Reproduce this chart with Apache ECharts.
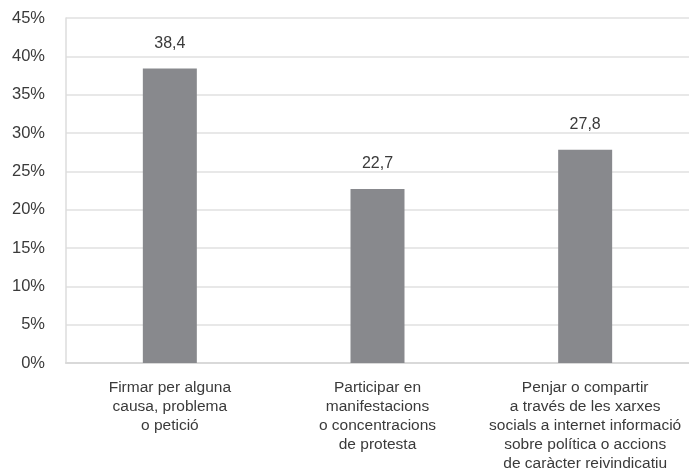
<!DOCTYPE html>
<html>
<head>
<meta charset="utf-8">
<script src="https://cdn.jsdelivr.net/npm/echarts@6/dist/echarts.min.js"></script>
<style>html,body{margin:0;padding:0;background:#fff}#c{width:689px;height:469px}</style>
</head>
<body>
<div id="c"></div>
<script>
const categories = [
  "Firmar per alguna\ncausa, problema\no petició",
  "Participar en\nmanifestacions\no concentracions\nde protesta",
  "Penjar o compartir\na través de les xarxes\nsocials a internet informació\nsobre política o accions\nde caràcter reivindicatiu"
];
const values = [38.4, 22.7, 27.8];
const yTicks = [0, 5, 10, 15, 20, 25, 30, 35, 40, 45];

const chart = echarts.init(document.getElementById('c'), null, {renderer: 'canvas'});
chart.setOption({
  animation: false,
  grid: {left: 66, right: 0, top: 18, bottom: 106, containLabel: false, outerBoundsMode: 'none'},
  xAxis: {
    type: 'category',
    data: categories,
    axisLine: {show: true, lineStyle: {color: '#d9d9d9', width: 2}},
    axisTick: {show: false},
    axisLabel: {
      interval: 0, margin: 15, color: '#3a3a3a',
      fontFamily: 'Liberation Sans', fontSize: 15.5, lineHeight: 19
    }
  },
  yAxis: {
    type: 'value', min: yTicks[0], max: yTicks[yTicks.length - 1], interval: 5,
    axisLine: {show: true, lineStyle: {color: '#dcdcdc', width: 1.5}},
    axisTick: {show: false},
    splitLine: {lineStyle: {color: '#e0e0e0', width: 1.5}},
    axisLabel: {
      margin: 21, color: '#3a3a3a', fontFamily: 'Liberation Sans', fontSize: 16.5,
      formatter: v => v + '%'
    }
  },
  series: [{
    type: 'bar',
    data: values,
    barWidth: '26%',
    itemStyle: {color: '#88898d'},
    label: {
      show: true, position: 'top', distance: 17, color: '#3a3a3a',
      fontFamily: 'Liberation Sans', fontSize: 16,
      formatter: p => String(p.value).replace('.', ',')
    }
  }]
});
</script>
</body>
</html>
